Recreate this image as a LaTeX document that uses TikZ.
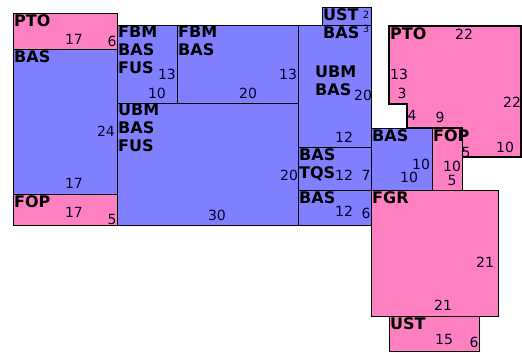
\documentclass[tikz,border=0pt]{standalone}
\usepackage{fontspec}
\setmainfont{DejaVu Sans}
\usetikzlibrary{positioning}
\definecolor{roomblue}{RGB}{128,128,255}
\definecolor{roompink}{RGB}{255,128,192}
\tikzset{
  room/.style={draw=black, line width=1.2pt, inner sep=0pt, anchor=north west},
  bluerm/.style={room, fill=roomblue},
  pinkrm/.style={room, fill=roompink},
  tag/.style={font=\fontsize{16}{18}\selectfont\bfseries, anchor=north west, align=left, inner sep=1pt},
  dim/.style={font=\fontsize{14}{14}\selectfont, inner sep=0pt, text=black!85!blue},
  dimsm/.style={dim, font=\fontsize{10}{10}\selectfont}
}
\begin{document}
\begin{tikzpicture}[x=1pt, y=-1pt]
\useasboundingbox (0,0) rectangle (522,353);
% left column
\node[pinkrm, minimum width=104pt, minimum height=36pt] (ptoa) at (13,13) {};
\node[bluerm, minimum width=104pt, minimum height=145pt] (basa) at (13,49) {};
\node[pinkrm, minimum width=104pt, minimum height=31pt] (fopa) at (13,194) {};
% middle block
\node[bluerm, minimum width=60pt, minimum height=78pt] (fbmfus) at (117,25) {};
\node[bluerm, minimum width=121pt, minimum height=78pt] (fbm) at (177,25) {};
\node[bluerm, minimum width=181pt, minimum height=122pt] (ubmfus) at (117,103) {};
\node[bluerm, minimum width=49pt, minimum height=18pt] (usta) at (322,7) {};
\node[bluerm, minimum width=73pt, minimum height=122pt] (ubm) at (298,25) {};
\node[bluerm, minimum width=73pt, minimum height=43pt] (tqs) at (298,147) {};
\node[bluerm, minimum width=73pt, minimum height=35pt] (basb) at (298,190) {};
% right part
\draw[line width=1.2pt, fill=roompink] (389,26) -- (521,26) -- (521,157) -- (462,157)
  -- (462,128) -- (407,128) -- (407,104) -- (389,104) -- cycle;
\coordinate (ptob) at (389,26);
\node[bluerm, minimum width=61pt, minimum height=62pt] (basc) at (371,128) {};
\node[pinkrm, minimum width=30pt, minimum height=62pt] (fopb) at (432,128) {};
\node[pinkrm, minimum width=127pt, minimum height=126pt] (fgr) at (371,190) {};
\node[pinkrm, minimum width=90pt, minimum height=35pt] (ustb) at (389,316) {};

% room names
\node[tag] (ptoa-t) at (ptoa.north west) {PTO};
\node[tag] (basa-t) at (basa.north west) {BAS};
\node[tag] (fopa-t) at (fopa.north west) {FOP};
\node[tag] (fbmfus-t) at (fbmfus.north west) {FBM\\BAS\\FUS};
\node[tag] (fbm-t) at (fbm.north west) {FBM\\BAS};
\node[tag] (ubmfus-t) at (ubmfus.north west) {UBM\\BAS\\FUS};
\node[tag] (usta-t) at (usta.north west) {UST\\BAS};
\node[tag] (ubm-t) at (314,65) {UBM\\BAS};
\node[tag] (tqs-t) at (tqs.north west) {BAS\\TQS};
\node[tag] (basb-t) at (basb.north west) {BAS};
\node[tag] (ptob-t) at (ptob) {PTO};
\node[tag] (basc-t) at (basc.north west) {BAS};
\node[tag] (fopb-t) at (fopb.north west) {FOP};
\node[tag] (fgr-t) at (fgr.north west) {FGR};
\node[tag] (ustb-t) at (ustb.north west) {UST};

% sizes
\node[dim] (ptoa-w) at (74,39) {17};
\node[dim] (ptoa-h) at (112,41) {6};
\node[dim] (basa-h) at (106,131) {24};
\node[dim] (basa-w) at (74,183) {17};
\node[dim] (fopa-w) at (74,212) {17};
\node[dim] (fopa-h) at (112,219) {5};
\node[dim] (fbmfus-h) at (167,74) {13};
\node[dim] (fbmfus-w) at (157,93) {10};
\node[dim] (fbm-h) at (288,74) {13};
\node[dim] (fbm-w) at (248,93) {20};
\node[dim] (ubmfus-h) at (289,175) {20};
\node[dim] (ubmfus-w) at (217,215) {30};
\node[dimsm] (usta-w) at (366,15) {2};
\node[dimsm] (usta-h) at (366,29) {3};
\node[dim] (ubm-h) at (363,95) {20};
\node[dim] (ubm-w) at (344,137) {12};
\node[dim] (tqs-w) at (344,175) {12};
\node[dim] (tqs-h) at (366,175) {7};
\node[dim] (basb-w) at (344,211) {12};
\node[dim] (basb-h) at (366,213) {6};
\node[dim] (ptob-w) at (464,34) {22};
\node[dim] (ptob-h) at (512,102) {22};
\node[dim] (ptob-a) at (399,74) {13};
\node[dim] (ptob-b) at (402,93) {3};
\node[dim] (ptob-c) at (412,115) {4};
\node[dim] (ptob-d) at (440,117) {9};
\node[dim] (ptob-e) at (505,147) {10};
\node[dim] (basc-h) at (421,164) {10};
\node[dim] (basc-w) at (409,177) {10};
\node[dim] (fopb-h) at (466,152) {5};
\node[dim] (fopb-a) at (452,166) {10};
\node[dim] (fopb-w) at (452,180) {5};
\node[dim] (fgr-h) at (485,262) {21};
\node[dim] (fgr-w) at (443,305) {21};
\node[dim] (ustb-w) at (444,339) {15};
\node[dim] (ustb-h) at (474,342) {6};
\end{tikzpicture}
\end{document}
